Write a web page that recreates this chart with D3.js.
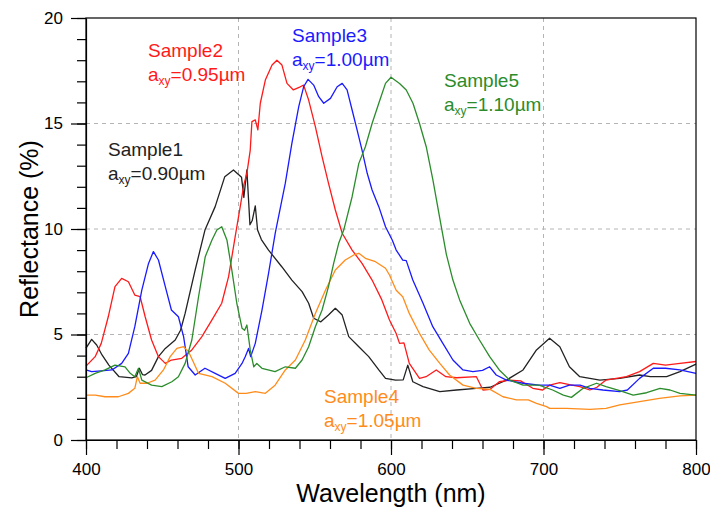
<!DOCTYPE html>
<meta charset="utf-8">
<style>
  body { margin: 0; background: #fff; }
  svg { font-family: "Liberation Sans", Arial, Helvetica, sans-serif; }
  .grid line { stroke: #b4b4b4; stroke-dasharray: 4,4; stroke-width: 1; }
  .axis path, .axis line { stroke: #000; stroke-width: 1.2; }
  .axis text { font-size: 17px; fill: #000; }
  .title { font-size: 25px; fill: #000; }
  .label { font-size: 19px; }
  .curve { fill: none; stroke-width: 1.3; stroke-linejoin: round; }
</style>
<svg width="710" height="511"></svg>
<script src="https://d3js.org/d3.v7.min.js"></script>
<script>
// Reflectance spectra, [wavelength nm, reflectance %]
var sample1 = [[400,4.35],[403.7,4.77],[407,4.5],[410.5,4.03],[415,3.55],[421.7,3.0],[430,2.94],[433,3.0],[435,3.4],[437,3.1],[438.7,3.08],[443,3.3],[447.5,3.95],[452,4.34],[458.5,4.74],[462,5.2],[465,6.0],[471.6,8.06],[478,9.95],[484.7,11.06],[491,12.48],[496.7,12.8],[502,12.45],[503.5,11.5],[505.5,12.8],[507.5,10.2],[509,10.4],[511,11.1],[512.5,9.95],[515,9.5],[519.7,9.0],[528.5,8.2],[535,7.58],[541.7,7.03],[546,6.48],[549.3,5.77],[554,5.6],[559,5.92],[563.5,6.24],[568,5.92],[572.3,4.9],[578.9,4.42],[585.4,3.95],[592,3.32],[596.4,2.92],[603,2.84],[608,2.85],[611,3.55],[614.3,2.76],[621,2.53],[632,2.29],[643,2.37],[656,2.45],[665,2.5],[675.7,2.84],[686.6,3.32],[695.4,4.27],[704,4.82],[710.7,4.42],[717,3.47],[723.8,3.0],[737,2.84],[750,2.92],[763,3.08],[770,3.0],[780.7,3.0],[789.5,3.24],[800,3.6]];

var sample2 = [[400,3.5],[406,3.95],[410,4.58],[414.6,5.84],[419,7.27],[423.4,7.66],[427.8,7.5],[432,6.87],[435.5,6.79],[438.8,5.84],[443,4.74],[447.5,3.95],[452,3.63],[456,3.79],[462.8,3.87],[469.4,4.27],[476,4.9],[482.6,5.69],[489,6.48],[493.5,7.74],[497.8,9.63],[501,11.0],[503.5,12.1],[505.5,12.64],[507.7,13.74],[508.8,15.09],[511,15.17],[512.7,14.7],[514.3,15.96],[517.6,17.06],[522,17.77],[525.2,18.0],[528.5,17.77],[531.8,16.9],[536,16.59],[540.5,16.74],[542.7,16.82],[546,16.11],[550.4,14.85],[554.8,13.43],[559,12.17],[563.5,10.9],[568,9.8],[574.5,9.0],[581,8.37],[587.6,7.58],[594,6.64],[599,5.69],[603.4,5.05],[605.6,4.58],[608.5,4.6],[612,3.63],[618.7,2.92],[623,3.0],[629.7,3.32],[636,3.0],[643,2.95],[656,3.0],[660.3,2.37],[665,2.4],[671,2.76],[677.8,2.84],[685,2.8],[693,2.45],[699.5,2.37],[704,2.6],[710.7,2.72],[717,2.62],[723.8,2.53],[730.4,2.37],[735,2.5],[741,2.84],[754.4,3.0],[763,3.24],[772,3.63],[780,3.55],[789.5,3.63],[800,3.72]];

var sample3 = [[400,3.32],[403.7,3.24],[410,3.28],[417,3.32],[423.4,3.63],[427.8,4.11],[432,5.37],[436.6,7.1],[441,8.37],[444.2,8.93],[447.5,8.53],[452,7.27],[456,6.16],[460.6,5.84],[464,4.9],[467,3.47],[471.6,3.08],[478,3.4],[484.7,3.16],[491.3,2.92],[497.8,3.16],[502.3,3.63],[504.4,3.95],[506.6,4.34],[508,3.95],[511,4.58],[515.4,6.16],[519.7,7.9],[524.1,9.8],[530.7,12.17],[535,14.06],[539.5,15.8],[542.7,16.74],[545.6,17.09],[549.3,16.82],[552.6,16.27],[555.9,15.96],[560.3,16.19],[564.7,16.74],[568,16.9],[571.2,16.59],[574.5,15.64],[577.8,14.69],[581,13.74],[584.4,12.64],[587.6,11.85],[592,11.06],[596.4,10.11],[600.8,9.48],[603.4,9.0],[607.7,8.53],[610,8.5],[614.3,7.58],[621,6.48],[627.4,5.37],[634,4.58],[640.6,3.79],[647.2,3.32],[653.7,3.24],[660,3.3],[664.7,3.47],[669,3.08],[675.7,2.84],[686.6,2.69],[697,2.6],[704,2.6],[710.7,2.45],[717,2.6],[724,2.6],[730.4,2.45],[739,2.37],[750,2.29],[755,2.37],[763,2.92],[772,3.4],[780,3.4],[789.5,3.32],[800,3.16]];

var sample4 = [[400,2.13],[406,2.13],[412.5,2.05],[421.2,2.05],[427.8,2.21],[432,2.45],[433.7,3.0],[435.5,2.69],[440,2.69],[445.3,2.84],[450.8,3.32],[455.2,3.95],[459.6,4.34],[464,4.42],[467.2,4.19],[473.8,3.16],[482.6,3.0],[491.3,2.69],[500,2.21],[505,2.21],[511,2.29],[517.6,2.21],[524,2.6],[530.7,3.32],[537.3,3.79],[543.8,4.74],[550.4,6.0],[557,7.1],[563.5,8.06],[570,8.53],[575.6,8.77],[578.9,8.85],[583.2,8.61],[589.8,8.45],[596.4,8.14],[599,7.82],[603.4,7.1],[607.7,6.79],[612,6.0],[618.7,5.05],[625,4.27],[632,3.63],[638.4,3.08],[647.2,2.6],[656,2.45],[665,2.4],[673.4,2.05],[682.2,1.9],[690,1.9],[695.4,1.74],[702,1.58],[704,1.5],[715,1.5],[730.4,1.45],[741,1.5],[750,1.66],[763,1.82],[776,1.97],[789.5,2.09],[800,2.13]];

var sample5 = [[400,2.95],[406,3.16],[412.5,3.32],[419,3.55],[425.6,3.47],[429,3.16],[432,3.0],[434.4,3.4],[436.6,2.84],[443,2.6],[449.7,2.53],[456.3,2.76],[460.6,3.0],[465,3.63],[469.4,4.74],[473.8,6.79],[478.2,8.69],[482.6,9.48],[485.8,9.95],[489,10.11],[492.4,9.48],[495.6,8.06],[498.9,6.48],[502.3,5.3],[504,5.2],[505.5,5.45],[507.7,4.27],[510,3.47],[512,3.63],[515.4,3.4],[524,3.24],[530.7,3.47],[537.3,3.4],[541.7,3.79],[546,4.42],[550.4,5.37],[554.8,6.16],[559,7.27],[562.4,8.37],[565.7,9.32],[569,9.95],[574.5,11.53],[578.9,13.11],[583.2,13.9],[587.6,15.0],[592,15.96],[596.4,16.9],[600,17.19],[605.6,16.9],[610,16.59],[614.4,15.96],[618.7,15.0],[623.1,13.9],[627.5,12.32],[632,10.5],[636.3,8.8],[640.6,7.58],[645,6.64],[651.6,5.53],[658,4.74],[664.7,3.95],[671,3.32],[677.8,2.84],[686.6,2.6],[697,2.6],[706,2.37],[713,2.13],[718.3,2.02],[726,2.45],[734.8,2.69],[741,2.53],[750,2.34],[758.8,2.13],[767.6,2.24],[776.4,2.45],[783,2.37],[789.5,2.21],[800,2.13]];

var seriesNames = ["Sample1", "Sample2", "Sample3", "Sample4", "Sample5"];
var sizes = ["0.90", "0.95", "1.00", "1.05", "1.10"];
var colors = ["#222222", "#ff1a1a", "#1a1aff", "#ff8c1a", "#2b8c2b"];
var xMajor = [400, 500, 600, 700, 800];
var yMajor = [0, 5, 10, 15, 20];

// The svg
var svg = d3.select("svg"),
    margin = {top: 18, right: 14, bottom: 71, left: 86},
    width = +svg.attr("width") - margin.left - margin.right,
    height = +svg.attr("height") - margin.top - margin.bottom;

var g = svg.append("g").attr("transform", "translate(" + margin.left + "," + margin.top + ")");

var x = d3.scaleLinear().domain([400, 800]).range([0, width]);
var y = d3.scaleLinear().domain([0, 20]).range([height, 0]);

// dashed grid
g.append("g").attr("class", "grid")
  .selectAll("line").data(xMajor.slice(1, -1)).enter().append("line")
  .attr("x1", d => x(d)).attr("x2", d => x(d))
  .attr("y1", 0).attr("y2", height);
g.append("g").attr("class", "grid")
  .selectAll("line").data(yMajor.slice(1, -1)).enter().append("line")
  .attr("x1", 0).attr("x2", width)
  .attr("y1", d => y(d)).attr("y2", d => y(d));

// curves
var line = d3.line().x(d => x(d[0])).y(d => y(d[1]));
[sample1, sample2, sample3, sample4, sample5].forEach(function (s, i) {
  g.append("path").datum(s)
    .attr("class", "curve")
    .attr("stroke", colors[i])
    .attr("d", line);
});

// minor ticks
g.append("g").attr("class", "axis")
  .attr("transform", "translate(0," + height + ")")
  .call(d3.axisBottom(x).tickValues(d3.range(400, 801, 20)).tickSize(9).tickFormat(""))
  .select(".domain").remove();
g.append("g").attr("class", "axis")
  .call(d3.axisLeft(y).tickValues(d3.range(0, 21, 1)).tickSize(9).tickFormat(""))
  .select(".domain").remove();

// major ticks with labels
g.append("g").attr("class", "axis")
  .attr("transform", "translate(0," + height + ")")
  .call(d3.axisBottom(x).tickValues(xMajor).tickSize(15).tickPadding(8).tickSizeOuter(0));
g.append("g").attr("class", "axis")
  .call(d3.axisLeft(y).tickValues(yMajor).tickSize(15).tickPadding(8).tickSizeOuter(0));

// frame
g.append("rect")
  .attr("width", width).attr("height", height)
  .attr("fill", "none").attr("stroke", "#000").attr("stroke-width", 1.2);

// axis titles
svg.append("text").attr("class", "title")
  .attr("x", margin.left + width / 2).attr("y", 502)
  .attr("text-anchor", "middle")
  .text("Wavelength (nm)");
svg.append("text").attr("class", "title")
  .attr("transform", "translate(38," + (margin.top + height / 2) + ") rotate(-90)")
  .attr("text-anchor", "middle")
  .text("Reflectance (%)");

// sample labels
var labelPos = [[108, 156], [148, 57], [292, 42], [324, 403], [444, 87]];
labelPos.forEach(function (p, i) {
  var t = svg.append("g").attr("class", "label").attr("fill", colors[i]);
  t.append("text").attr("x", p[0]).attr("y", p[1]).text(seriesNames[i]);
  var t2 = t.append("text").attr("x", p[0]).attr("y", p[1] + 24);
  t2.append("tspan").text("a");
  t2.append("tspan").attr("font-size", 12).attr("dy", 4).text("xy");
  t2.append("tspan").attr("dy", -4).text("=" + sizes[i] + "\u00b5m");
});
</script>
